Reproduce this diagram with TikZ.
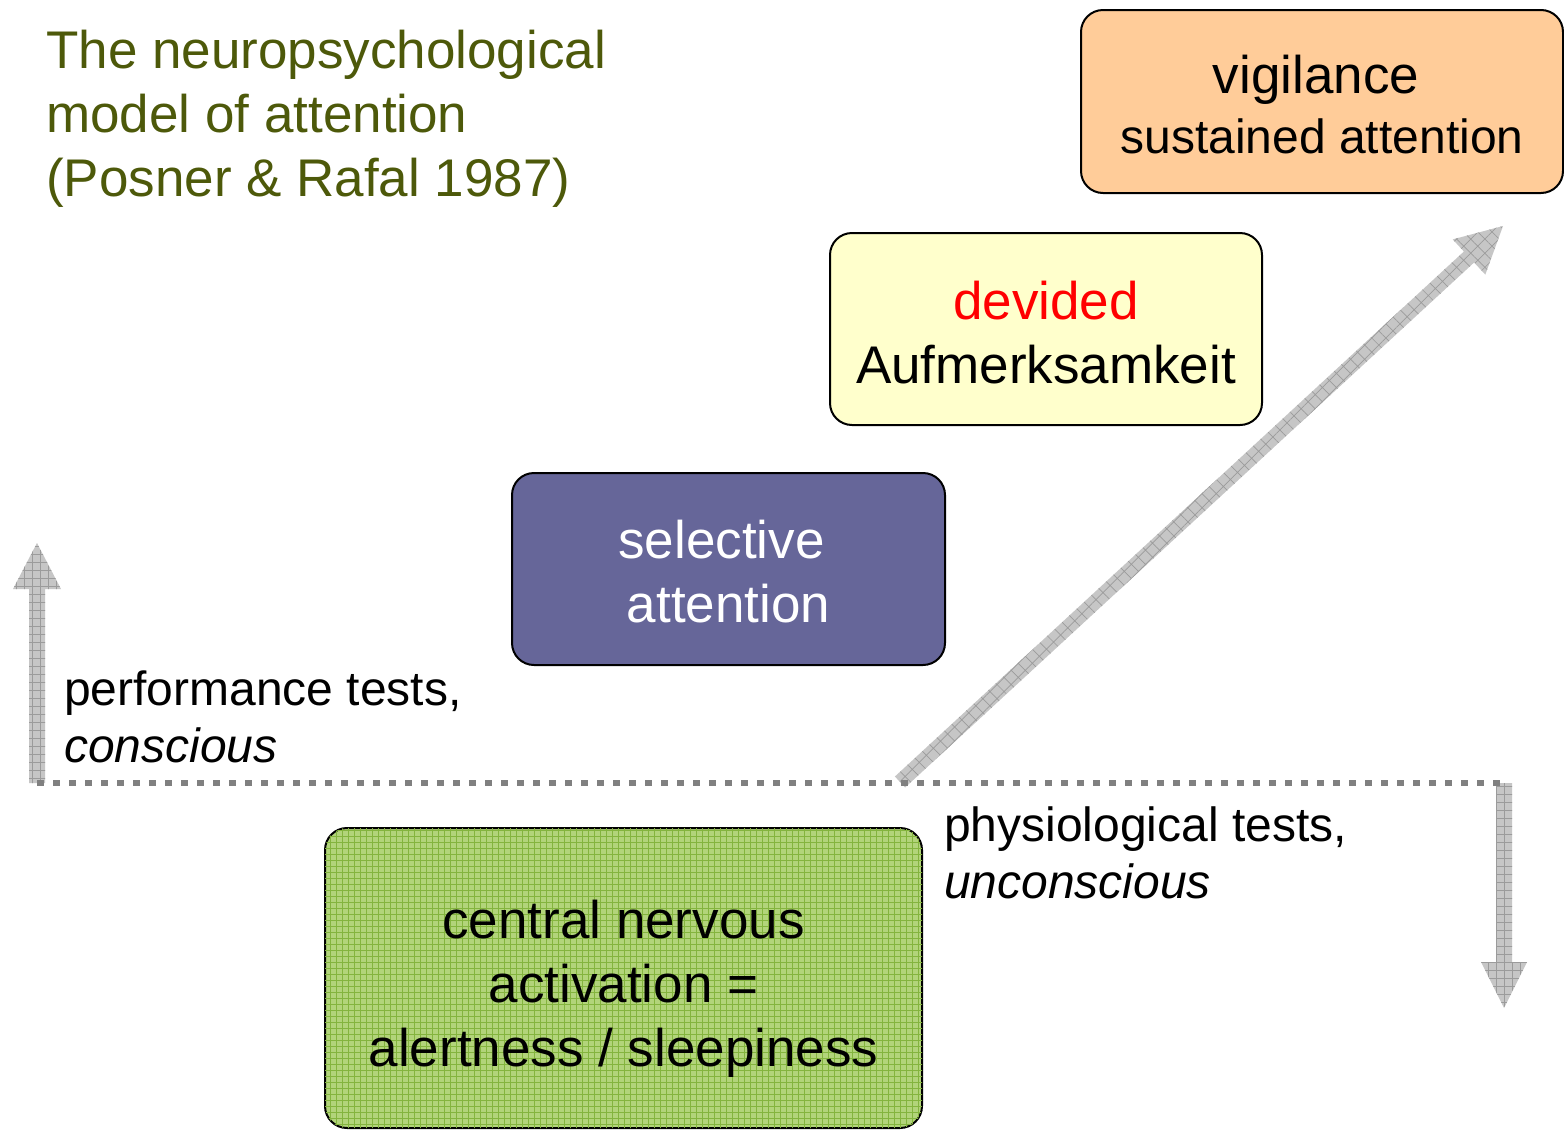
\documentclass[tikz,border=0pt]{standalone}
\usepackage{fontspec}
\setmainfont{Liberation Sans}
\usetikzlibrary{patterns.meta}
\definecolor{titlecol}{RGB}{77,89,10}
\definecolor{vigcol}{RGB}{255,204,153}
\definecolor{divcol}{RGB}{255,255,204}
\definecolor{selcol}{RGB}{102,102,153}
\definecolor{cnscol}{RGB}{178,212,122}
\definecolor{cnsgrid}{RGB}{132,180,62}
\definecolor{arrcol}{RGB}{198,198,198}
\definecolor{arrgrid}{RGB}{155,155,155}
\definecolor{dotcol}{RGB}{128,128,128}
\begin{document}
\begin{tikzpicture}[x=1pt,y=-1pt,
  box/.style={draw=black, line width=2pt, rounded corners=22pt, align=center,
    inner sep=0pt, text depth=0pt, font=\fontsize{53}{64}\selectfont},
  label48/.style={align=left, inner sep=0pt, anchor=base west,
    font=\fontsize{48}{57}\selectfont},
  blockarrow/.style={fill=arrcol,
    postaction={pattern={Hatch[angle=0,distance=8pt,line width=0.7pt]}, pattern color=arrgrid}},
  diagarrow/.style={fill=arrcol,
    postaction={pattern={Hatch[angle=45,distance=10pt,line width=0.7pt]}, pattern color=arrgrid}},
  dotline/.style={draw=dotcol, line width=6.5pt, dash pattern=on 6.5pt off 9.5pt}
]
\useasboundingbox (0,0) rectangle (1564,1130);
\fill[white] (0,0) rectangle (1564,1130);

% title
\node[anchor=base west, align=left, inner sep=0pt, text=titlecol,
  font=\fontsize{53}{64}\selectfont] (title) at (46,196)
  {The neuropsychological\\model of attention\\(Posner \& Rafal 1987)};

% block arrows
\path[blockarrow] (29,783) -- (29,589) -- (13,589) -- (37,543) -- (61,589)
  -- (45,589) -- (45,783) -- cycle;
\path[blockarrow] (1496,783) -- (1496,962) -- (1481,962) -- (1504,1008)
  -- (1527,962) -- (1512,962) -- (1512,783) -- cycle;
\path[diagarrow] (905.1,787.5) -- (1474.1,262.5) -- (1485.3,274.6) -- (1503,226)
  -- (1452.7,239.4) -- (1463.9,251.5) -- (894.9,776.5) -- cycle;

% dotted separator
\coordinate (sepL) at (37,783);
\coordinate (sepR) at (1504,783);
\draw[dotline] (sepL) -- (sepR);

% boxes
\node[box, fill=vigcol, minimum width=482pt, minimum height=183pt,
  text height=103pt, font=\fontsize{48}{60}\selectfont] (vig) at (1322,101.5)
  {{\fontsize{53}{60}\selectfont vigilance\kern12pt}\\sustained attention};
\node[box, fill=divcol, minimum width=432pt, minimum height=192pt,
  text height=108pt] (div) at (1046,329)
  {\textcolor{red}{devided}\\Aufmerksamkeit};
\node[box, fill=selcol, text=white, minimum width=433pt, minimum height=192pt,
  text height=106pt] (sel) at (728.5,569)
  {selective\kern14pt\\attention};
\node[box, fill=cnscol, minimum width=597pt, minimum height=300pt,
  text height=176pt,
  postaction={pattern={Hatch[angle=0,distance=6pt,line width=0.5pt]}, pattern color=cnsgrid}]
  (cns) at (623.5,978) {};
\node[align=center, inner sep=0pt, text height=176pt, text depth=0pt,
  font=\fontsize{53}{64}\selectfont] (cnstext) at (623.5,978)
  {central nervous\\activation =\\alertness / sleepiness};

% side labels
\node[label48] (perf) at (64,762) {performance tests,\\\textit{conscious}};
\node[label48] (phys) at (944,898) {physiological tests,\\\textit{unconscious}};
\end{tikzpicture}
\end{document}
